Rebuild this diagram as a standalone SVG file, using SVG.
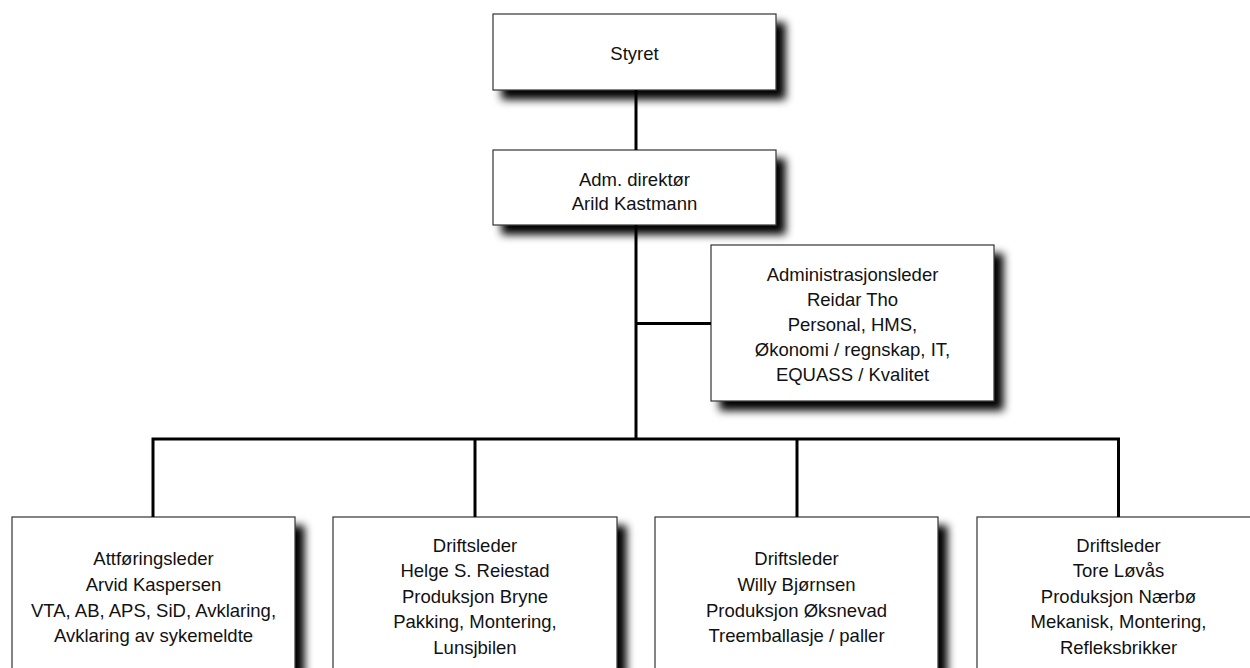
<svg xmlns="http://www.w3.org/2000/svg" width="1250" height="668" viewBox="0 0 1250 668">
<defs>
<filter id="sh" x="-10%" y="-10%" width="130%" height="140%">
<feDropShadow dx="9" dy="9" stdDeviation="4.5" flood-color="#000" flood-opacity="1"/>
</filter>
<style>
.box{fill:#fff;stroke:#333;stroke-width:1.2;filter:url(#sh)}
.t{font-family:"Liberation Sans",Arial,sans-serif;font-size:18.5px;fill:#111;text-anchor:middle}
.c{stroke:#000;stroke-width:3;fill:none}
</style>
</defs>
<rect width="1250" height="668" fill="#fff"/>
<g id="styret">
<rect class="box" x="493" y="14" width="283" height="76"/>
<text class="t" x="634.5" y="60">Styret</text>
</g>
<g id="adm">
<rect class="box" x="493" y="150" width="283" height="75"/>
<text class="t" x="634.5" y="186">Adm. direktør</text>
<text class="t" x="634.5" y="210">Arild Kastmann</text>
</g>
<g id="administrasjon">
<rect class="box" x="711" y="245" width="283" height="156"/>
<text class="t" x="852.5" y="281">Administrasjonsleder</text>
<text class="t" x="852.5" y="306">Reidar Tho</text>
<text class="t" x="852.5" y="331">Personal, HMS,</text>
<text class="t" x="852.5" y="356">Økonomi / regnskap, IT,</text>
<text class="t" x="852.5" y="381">EQUASS / Kvalitet</text>
</g>
<g id="attforing">
<rect class="box" x="12" y="517" width="283" height="170"/>
<text class="t" x="153.5" y="565">Attføringsleder</text>
<text class="t" x="153.5" y="591">Arvid Kaspersen</text>
<text class="t" x="153.5" y="617">VTA, AB, APS, SiD, Avklaring,</text>
<text class="t" x="153.5" y="642">Avklaring av sykemeldte</text>
</g>
<g id="bryne">
<rect class="box" x="333" y="517" width="284" height="170"/>
<text class="t" x="475" y="552">Driftsleder</text>
<text class="t" x="475" y="577">Helge S. Reiestad</text>
<text class="t" x="475" y="603">Produksjon Bryne</text>
<text class="t" x="475" y="628">Pakking, Montering,</text>
<text class="t" x="475" y="654">Lunsjbilen</text>
</g>
<g id="oksnevad">
<rect class="box" x="655" y="517" width="283" height="170"/>
<text class="t" x="796.5" y="565">Driftsleder</text>
<text class="t" x="796.5" y="591">Willy Bjørnsen</text>
<text class="t" x="796.5" y="617">Produksjon Øksnevad</text>
<text class="t" x="796.5" y="642">Treemballasje / paller</text>
</g>
<g id="naerbo">
<rect class="box" x="977" y="517" width="283" height="170"/>
<text class="t" x="1118.5" y="552">Driftsleder</text>
<text class="t" x="1118.5" y="577">Tore Løvås</text>
<text class="t" x="1118.5" y="603">Produksjon Nærbø</text>
<text class="t" x="1118.5" y="628">Mekanisk, Montering,</text>
<text class="t" x="1118.5" y="654">Refleksbrikker</text>
</g>
<g id="connectors">
<path class="c" d="M636 90 V150"/>
<path class="c" d="M636 225 V439"/>
<path class="c" d="M636 323.5 H711"/>
<path class="c" d="M153 517 V439 H1118.5 V517"/>
<path class="c" d="M475 439 V517"/>
<path class="c" d="M797 439 V517"/>
</g>
</svg>
